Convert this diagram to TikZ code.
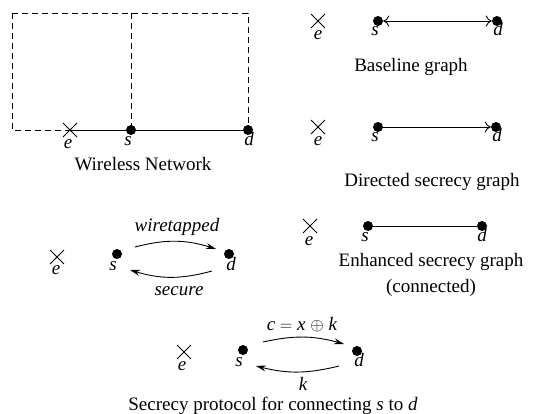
\documentclass[tikz,border=0pt]{standalone}
\usepackage{fontspec}
\setmainfont{Liberation Serif}
\usetikzlibrary{shapes.misc,arrows.meta}
\tikzset{
  dotn/.style={circle,fill=black,inner sep=0pt,minimum size=10pt},
  crossn/.style={cross out,draw=black,line width=0.9pt,inner sep=0pt,minimum size=13pt},
  lab/.style={font=\fontsize{19}{22}\selectfont\itshape,inner sep=0pt,anchor=base},
  captxt/.style={font=\fontsize{19}{22}\selectfont,inner sep=0pt,anchor=base,align=center},
  edgeln/.style={line width=0.9pt},
  dashedline/.style={dashed,line width=0.9pt,dash pattern=on 6pt off 4pt},
  curvarr/.style={line width=0.9pt,-{Stealth[length=10pt,width=6pt]}},
  opentip/.style={line width=0.9pt,-{To[length=6pt,width=11pt]}},
  opentips/.style={line width=0.9pt,{To[length=6pt,width=11pt]}-{To[length=6pt,width=11pt]}}
}
\begin{document}
\begin{tikzpicture}[x=1pt,y=-1pt]
\useasboundingbox (0,0) rectangle (541,414);

% ---------- Panel 1: Wireless network ----------
\coordinate (r1) at (12,13);
\coordinate (r2) at (248,130);
\coordinate (rt) at (131,13);
\coordinate (rb) at (131,130);
\draw[dashedline] (r1) rectangle (r2);
\draw[dashedline] (rt) -- (rb);
\node[crossn] (e1) at (70,130) {};
\node[dotn] (s1) at (131,130) {};
\node[dotn] (d1) at (248,130) {};
\draw[edgeln] (e1.center) -- (s1) -- (d1);
\node[lab] (e1l) at (68,149) {e};
\node[lab] (s1l) at (128,146) {s};
\node[lab] (d1l) at (249,146) {d};
\node[captxt] (c1) at (143,171) {Wireless Network};

% ---------- Panel 2: Baseline graph ----------
\node[crossn] (e2) at (318,21) {};
\node[dotn] (s2) at (378,21) {};
\node[dotn] (d2) at (497,21) {};
\draw[opentips] (s2) -- (d2);
\node[lab] (e2l) at (318,40) {e};
\node[lab] (s2l) at (375,36) {s};
\node[lab] (d2l) at (498,36) {d};
\node[captxt] (c2) at (411,72) {Baseline graph};

% ---------- Panel 3: Directed secrecy graph ----------
\node[crossn] (e3) at (318,127) {};
\node[dotn] (s3) at (378,127) {};
\node[dotn] (d3) at (496,127) {};
\draw[opentip] (s3) -- (d3);
\node[lab] (e3l) at (318,146) {e};
\node[lab] (s3l) at (375,142) {s};
\node[lab] (d3l) at (497,142) {d};
\node[captxt] (c3) at (432,187) {Directed secrecy graph};

% ---------- Panel 4: wiretapped / secure ----------
\node[crossn] (e4) at (57,257) {};
\node[dotn] (s4) at (117,254) {};
\node[dotn] (d4) at (229,254) {};
\node[lab] (e4l) at (56,275) {e};
\node[lab] (s4l) at (113,271) {s};
\node[lab] (d4l) at (231,271) {d};
\coordinate (w1) at (135,247);
\coordinate (w2) at (216,249);
\coordinate (q1) at (212,271);
\coordinate (q2) at (130,270);
\draw[curvarr] (w1) to[bend left=16] (w2);
\draw[curvarr] (q1) to[bend left=16] (q2);
\node[lab] (wl) at (177,232) {wiretapped};
\node[lab] (sl) at (179,295) {secure};

% ---------- Panel 5: Enhanced secrecy graph ----------
\node[crossn] (e5) at (310,226) {};
\node[dotn] (s5) at (368,226) {};
\node[dotn] (d5) at (482,226) {};
\draw[edgeln] (s5) -- (d5);
\node[lab] (e5l) at (309,246) {e};
\node[lab] (s5l) at (365,242) {s};
\node[lab] (d5l) at (482,242) {d};
\node[captxt] (c5a) at (431,267) {Enhanced secrecy graph};
\node[captxt] (c5b) at (431,292) {(connected)};

% ---------- Panel 6: Secrecy protocol ----------
\node[crossn] (e6) at (184,352) {};
\node[dotn] (s6) at (243,350) {};
\node[dotn] (d6) at (357,351) {};
\node[lab] (e6l) at (182,370) {e};
\node[lab] (s6l) at (239,366) {s};
\node[lab] (d6l) at (359,366) {d};
\coordinate (p1) at (263,342);
\coordinate (p2) at (344,344);
\coordinate (k1) at (339,366);
\coordinate (k2) at (256,366);
\draw[curvarr] (p1) to[bend left=14] (p2);
\draw[curvarr] (k1) to[bend left=14] (k2);
\node[captxt] (pl) at (302,330) {\textit{c} $=$ \textit{x} $\oplus$ \textit{k}};
\node[lab] (kl) at (303,390) {k};
\node[captxt] (c6) at (273,410) {Secrecy protocol for connecting \textit{s} to \textit{d}};
\end{tikzpicture}
\end{document}
